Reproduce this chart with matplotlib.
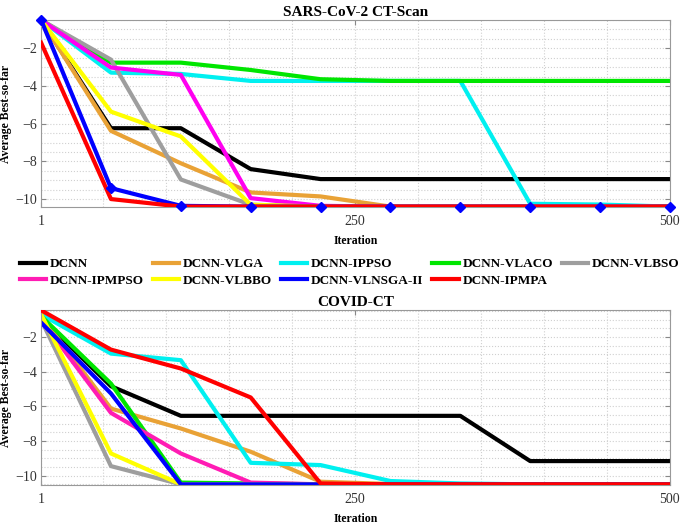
import numpy as np
import matplotlib
matplotlib.use("Agg")
import matplotlib.pyplot as plt
from matplotlib.ticker import MultipleLocator

plt.rcParams['font.family'] = ['Liberation Serif', 'DejaVu Serif']

# iteration checkpoints (10 points from 1 to 500)
iters = np.linspace(1, 500, 10)

names = ["DCNN", "DCNN-VLGA", "DCNN-IPPSO", "DCNN-VLACO", "DCNN-VLBSO",
         "DCNN-IPMPSO", "DCNN-VLBBO", "DCNN-VLNSGA-II", "DCNN-IPMPA"]

# SARS-CoV-2 CT-Scan
sars = {
    "DCNN":           [-0.5, -6.24, -6.24, -8.41, -8.94, -8.94, -8.94, -8.94, -8.94, -8.94],
    "DCNN-VLGA":      [-0.5, -6.38, -8.1, -9.65, -9.86, -10.4, -10.4, -10.4, -10.4, -10.4],
    "DCNN-IPPSO":     [-0.5, -3.29, -3.36, -3.73, -3.73, -3.73, -3.73, -10.25, -10.29, -10.4],
    "DCNN-VLACO":     [-0.5, -2.76, -2.76, -3.15, -3.64, -3.73, -3.73, -3.73, -3.73, -3.73],
    "DCNN-VLBSO":     [-0.5, -2.6, -8.96, -10.3, -10.4, -10.4, -10.4, -10.4, -10.4, -10.4],
    "DCNN-IPMPSO":    [-0.5, -3.02, -3.41, -9.95, -10.36, -10.4, -10.4, -10.4, -10.4, -10.4],
    "DCNN-VLBBO":     [-0.5, -5.36, -6.68, -10.3, -10.4, -10.4, -10.4, -10.4, -10.4, -10.4],
    "DCNN-VLNSGA-II": [-0.5, -9.42, -10.36, -10.4, -10.4, -10.4, -10.4, -10.4, -10.4, -10.4],
    "DCNN-IPMPA":     [-1.7, -10.0, -10.4, -10.4, -10.4, -10.4, -10.4, -10.4, -10.4, -10.4],
}

# COVID-CT
covid = {
    "DCNN":           [-0.9, -4.84, -6.55, -6.55, -6.55, -6.55, -6.55, -9.16, -9.16, -9.16],
    "DCNN-VLGA":      [-0.8, -6.13, -7.28, -8.62, -10.35, -10.48, -10.5, -10.5, -10.5, -10.5],
    "DCNN-IPPSO":     [-0.7, -2.96, -3.34, -9.26, -9.39, -10.31, -10.45, -10.5, -10.5, -10.5],
    "DCNN-VLACO":     [-0.8, -4.69, -10.4, -10.45, -10.5, -10.5, -10.5, -10.5, -10.5, -10.5],
    "DCNN-VLBSO":     [-1.0, -9.45, -10.5, -10.5, -10.5, -10.5, -10.5, -10.5, -10.5, -10.5],
    "DCNN-IPMPSO":    [-1.0, -6.38, -8.72, -10.4, -10.5, -10.5, -10.5, -10.5, -10.5, -10.5],
    "DCNN-VLBBO":     [-0.7, -8.72, -10.5, -10.5, -10.5, -10.5, -10.5, -10.5, -10.5, -10.5],
    "DCNN-VLNSGA-II": [-1.17, -5.26, -10.5, -10.5, -10.5, -10.5, -10.5, -10.5, -10.5, -10.5],
    "DCNN-IPMPA":     [-0.46, -2.73, -3.82, -5.49, -10.45, -10.5, -10.5, -10.5, -10.5, -10.5],
}

colors_top = {"DCNN": "black", "DCNN-VLGA": "#E9A236", "DCNN-IPPSO": "#00F0F0",
              "DCNN-VLACO": "#00E600", "DCNN-VLBSO": "#9E9E9E", "DCNN-IPMPSO": "#FF00F0",
              "DCNN-VLBBO": "#FFFF00", "DCNN-VLNSGA-II": "#0000FF", "DCNN-IPMPA": "#FF0000"}
colors_bot = dict(colors_top)
colors_bot["DCNN-IPMPSO"] = "#FF1CB4"

fig = plt.figure(figsize=(6.85, 5.28), dpi=100)
ax1 = fig.add_axes([0.060, 0.608, 0.918, 0.354])
ax2 = fig.add_axes([0.060, 0.0814, 0.918, 0.331])


def style(ax, title, ylim):
    ax.set_xlim(1, 500)
    ax.set_ylim(*ylim)
    ax.set_xticks([1, 250, 500])
    ax.set_yticks([-10, -8, -6, -4, -2])
    ax.xaxis.set_minor_locator(MultipleLocator(50))
    ax.yaxis.set_minor_locator(MultipleLocator(0.5))
    ax.grid(which='both', linestyle=':', color='#D0D0D0', linewidth=0.8)
    ax.set_axisbelow(True)
    ax.tick_params(which='both', direction='in', top=True, right=True,
                   colors='#888888', labelcolor='#333333', labelsize=10)
    ax.tick_params(axis='x', pad=5.5)
    ax.tick_params(axis='y', pad=3)
    ax.tick_params(which='minor', length=0)
    for s in ax.spines.values():
        s.set_color('#999999')
    ax.set_title(title, fontsize=11, fontweight='bold', pad=3)
    ax.set_xlabel('Iteration', fontsize=8.5, fontweight='bold', labelpad=5)
    ax.set_ylabel('Average Best-so-far', fontsize=8.5, fontweight='bold', labelpad=2)


lines = {}
for n in names:
    z = 3 if n == "DCNN-IPMPA" else 2
    ax1.plot(iters, sars[n], color=colors_top[n], lw=3, zorder=z)
ax1.plot(iters, sars["DCNN-VLNSGA-II"], ls='none', marker='D', ms=5.5,
         color='#0000FF', zorder=4, clip_on=False)

for n in names:
    z = 3 if n == "DCNN-IPMPA" else 2
    lines[n], = ax2.plot(iters, covid[n], color=colors_bot[n], lw=3, zorder=z, label=n)

style(ax1, 'SARS-CoV-2 CT-Scan', (-10.42, -0.5))
style(ax2, 'COVID-CT', (-10.54, -0.46))

# legend filled row by row -> reorder for column-major filling
order = ["DCNN", "DCNN-IPMPSO", "DCNN-VLGA", "DCNN-VLBBO", "DCNN-IPPSO",
         "DCNN-VLNSGA-II", "DCNN-VLACO", "DCNN-IPMPA", "DCNN-VLBSO"]
fig.legend([lines[n] for n in order], order, ncol=5, frameon=False,
           loc='center left', bbox_to_anchor=(0.029, 0.484),
           prop={'weight': 'bold', 'size': 9.5}, handlelength=2.0,
           handletextpad=0.3, columnspacing=0.65, labelspacing=0.35,
           borderpad=0, borderaxespad=0)

fig.savefig('out.png', dpi=100)
